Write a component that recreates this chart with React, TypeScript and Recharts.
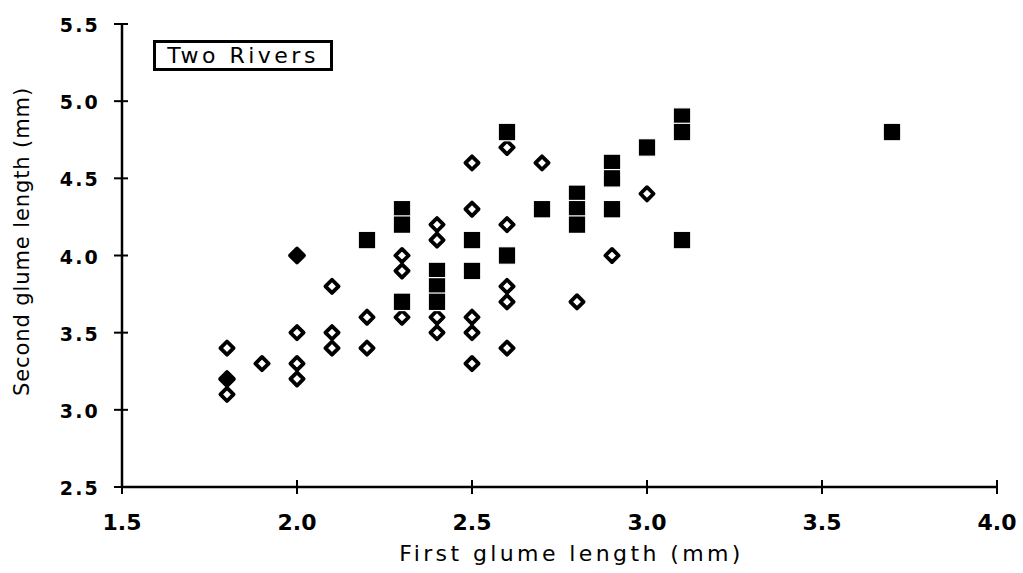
import React from 'react';
import { ScatterChart, Scatter, XAxis, YAxis, Label } from 'recharts';

// Two Rivers: first vs second glume length (mm)
const openX = [1.8, 1.8, 1.9, 2.0, 2.0, 2.0, 2.1, 2.1, 2.1, 2.2, 2.2, 2.3, 2.3, 2.3, 2.4, 2.4, 2.4, 2.4, 2.5, 2.5, 2.5, 2.5, 2.5, 2.6, 2.6, 2.6, 2.6, 2.6, 2.7, 2.8, 2.9, 3.0];
const openY = [3.4, 3.1, 3.3, 3.5, 3.3, 3.2, 3.8, 3.5, 3.4, 3.6, 3.4, 4.0, 3.9, 3.6, 4.2, 4.1, 3.6, 3.5, 4.6, 4.3, 3.6, 3.5, 3.3, 4.7, 4.2, 3.8, 3.7, 3.4, 4.6, 3.7, 4.0, 4.4];

const squareX = [2.2, 2.3, 2.3, 2.3, 2.4, 2.4, 2.4, 2.5, 2.5, 2.6, 2.6, 2.7, 2.8, 2.8, 2.8, 2.9, 2.9, 2.9, 3.0, 3.1, 3.1, 3.1, 3.7];
const squareY = [4.1, 4.3, 4.2, 3.7, 3.9, 3.8, 3.7, 4.1, 3.9, 4.8, 4.0, 4.3, 4.4, 4.3, 4.2, 4.6, 4.5, 4.3, 4.7, 4.9, 4.8, 4.1, 4.8];

const solidX = [1.8, 2.0];
const solidY = [3.2, 4.0];

const xTicks = [1.5, 2.0, 2.5, 3.0, 3.5, 4.0];
const yTicks = [2.5, 3.0, 3.5, 4.0, 4.5, 5.0, 5.5];

const zip = (xs: number[], ys: number[]) => xs.map((x, i) => ({ x, y: ys[i] }));
const openData = zip(openX, openY);
const squareData = zip(squareX, squareY);
const solidData = zip(solidX, solidY);

const FONT = '"DejaVu Sans", Verdana, sans-serif';

const diamondPath = (cx: number, cy: number, r: number) =>
  `M${cx},${cy - r} L${cx + r},${cy} L${cx},${cy + r} L${cx - r},${cy} Z`;

const OpenDiamond = (props: any) => {
  const { cx, cy } = props;
  return (
    <path d={diamondPath(cx, cy, 6.6)} fill="#fff" stroke="#000" strokeWidth={3.8} strokeLinejoin="round" />
  );
};

const SolidDiamond = (props: any) => {
  const { cx, cy } = props;
  return (
    <path d={diamondPath(cx, cy, 6.8)} fill="#000" stroke="#000" strokeWidth={4} strokeLinejoin="round" />
  );
};

const SolidSquare = (props: any) => {
  const { cx, cy } = props;
  const s = 17.5;
  return <rect x={cx - s / 2} y={cy - s / 2} width={s} height={s} fill="#000" stroke="#fff" strokeWidth={1.2} />;
};

const XTick = (props: any) => {
  const { x, y, payload } = props;
  return (
    <g>
      <line x1={x} x2={x} y1={y - 7} y2={y + 7} stroke="#000" strokeWidth={2} />
      <text x={x} y={y + 35} textAnchor="middle" dominantBaseline="central" fontFamily={FONT} fontWeight="bold" fontSize={22} fill="#000">
        {Number(payload.value).toFixed(1)}
      </text>
    </g>
  );
};

const YTick = (props: any) => {
  const { x, y, payload } = props;
  return (
    <g>
      <line x1={x - 8} x2={x + 6} y1={y} y2={y} stroke="#000" strokeWidth={2} />
      <text x={x - 22} y={y + 1} textAnchor="end" dominantBaseline="central" fontFamily={FONT} fontWeight="bold" fontSize={19} letterSpacing={2.2} fill="#000">
        {Number(payload.value).toFixed(1)}
      </text>
    </g>
  );
};

const XTitle = (props: any) => {
  const vb = props.viewBox;
  return (
    <text x={vb.x + vb.width / 2 + 12} y={vb.y + 66} textAnchor="middle" dominantBaseline="central" fontFamily={FONT} fontSize={22} letterSpacing={3.4} fill="#000">
      First glume length (mm)
    </text>
  );
};

const YTitle = (props: any) => {
  const vb = props.viewBox;
  const cx = vb.x - 20;
  const cy = vb.y + vb.height / 2 - 14;
  return (
    <text x={cx} y={cy} transform={`rotate(-90, ${cx}, ${cy})`} textAnchor="middle" dominantBaseline="central" fontFamily={FONT} fontSize={21} letterSpacing={0.9} fill="#000">
      Second glume length (mm)
    </text>
  );
};

export default function App() {
  return (
    <div style={{ position: 'absolute', left: 0, top: 0, width: 1023, height: 573, background: '#fff' }}>
      <ScatterChart width={1023} height={573} margin={{ top: 24, right: 26, bottom: 26, left: 42 }}>
        <XAxis
          type="number"
          dataKey="x"
          domain={[1.5, 4.0]}
          ticks={xTicks}
          interval={0}
          height={60}
          tickSize={0}
          tickMargin={0}
          tickLine={false}
          axisLine={{ stroke: '#000', strokeWidth: 2.5 }}
          tick={<XTick />}
        >
          <Label content={<XTitle />} />
        </XAxis>
        <YAxis
          type="number"
          dataKey="y"
          domain={[2.5, 5.5]}
          ticks={yTicks}
          interval={0}
          width={80}
          tickSize={0}
          tickMargin={0}
          tickLine={false}
          axisLine={{ stroke: '#000', strokeWidth: 2.5 }}
          tick={<YTick />}
        >
          <Label content={<YTitle />} />
        </YAxis>
        <Scatter data={openData} shape={<OpenDiamond />} isAnimationActive={false} />
        <Scatter data={solidData} shape={<SolidDiamond />} isAnimationActive={false} />
        <Scatter data={squareData} shape={<SolidSquare />} isAnimationActive={false} />
      </ScatterChart>
      <div
        style={{
          position: 'absolute',
          left: 153,
          top: 40,
          width: 180,
          height: 31,
          boxSizing: 'border-box',
          border: '3px solid #000',
          background: '#fff',
          display: 'flex',
          alignItems: 'center',
          justifyContent: 'center',
          fontFamily: FONT,
          fontSize: 22,
          letterSpacing: 3.5,
          color: '#000',
        }}
      >
        Two Rivers
      </div>
    </div>
  );
}
